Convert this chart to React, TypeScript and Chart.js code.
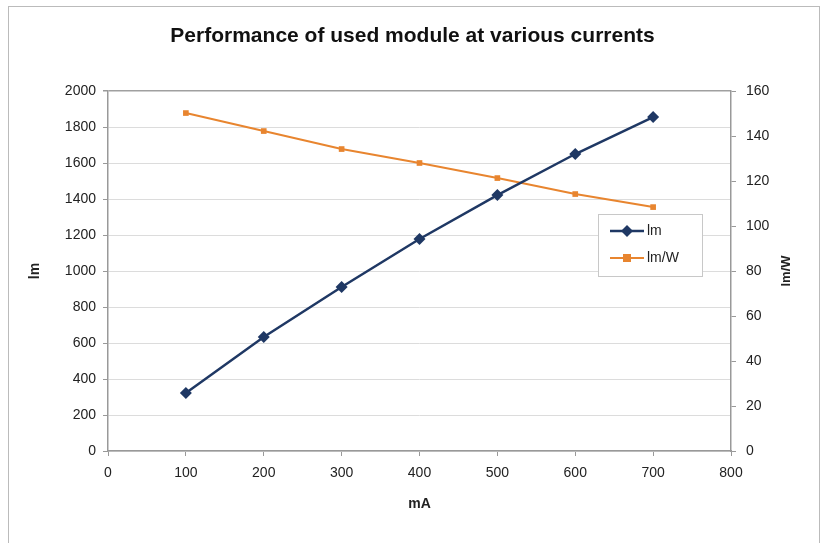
import React, { useEffect, useRef } from "react";
import { Chart, registerables } from "chart.js";

Chart.register(...registerables);

const currents = [100, 200, 300, 400, 500, 600, 700];
const lumens = [322, 633, 911, 1178, 1422, 1650, 1855];
const efficacy = [150.2, 142.2, 134.2, 128, 121.3, 114.2, 108.4];
const titleText = "Performance of used module at various currents";
const seriesNames = ["lm", "lm/W"];
const xTitle = "mA";
const yTitle = "lm";
const y1Title = "lm/W";

const NAVY = "#1f3864";
const ORANGE = "#e8852f";
const FONT = "'Liberation Sans', Arial, sans-serif";
const plain = (v: any) => String(v);

const extrasPlugin = {
  id: "extras",
  afterDraw(chart: any) {
    const { ctx, chartArea } = chart;
    ctx.save();
    ctx.font = `bold 13px ${FONT}`;
    ctx.fillStyle = "#222";
    ctx.textAlign = "center";
    ctx.textBaseline = "middle";
    ctx.translate(786, (chartArea.top + chartArea.bottom) / 2);
    ctx.rotate(-Math.PI / 2);
    ctx.fillText(y1Title, 0, 0);
    ctx.restore();

    ctx.save();
    const bx = 598, by = 214, bw = 104, bh = 62;
    ctx.fillStyle = "#fff";
    ctx.fillRect(bx, by, bw, bh);
    ctx.strokeStyle = "#c8c8c8";
    ctx.lineWidth = 1;
    ctx.strokeRect(bx + 0.5, by + 0.5, bw, bh);
    chart.data.datasets.forEach((ds: any, i: number) => {
      const y = by + 17 + i * 27;
      ctx.strokeStyle = ds.borderColor;
      ctx.lineWidth = ds.borderWidth;
      ctx.beginPath();
      ctx.moveTo(610, y);
      ctx.lineTo(644, y);
      ctx.stroke();
      ctx.fillStyle = ds.backgroundColor;
      const r = ds.pointRadius;
      if (ds.pointStyle === "rectRot") {
        ctx.beginPath();
        ctx.moveTo(627, y - r);
        ctx.lineTo(627 + r, y);
        ctx.lineTo(627, y + r);
        ctx.lineTo(627 - r, y);
        ctx.closePath();
        ctx.fill();
      } else {
        ctx.fillRect(627 - r, y - r, 2 * r, 2 * r);
      }
      ctx.fillStyle = "#222";
      ctx.font = `14px ${FONT}`;
      ctx.textAlign = "left";
      ctx.textBaseline = "middle";
      ctx.fillText(ds.label, 647, y);
    });
    ctx.restore();
  },
};

export default function App() {
  const ref = useRef<HTMLCanvasElement>(null);
  useEffect(() => {
    if (!ref.current) return;
    const chart = new Chart(ref.current, {
      type: "line",
      data: {
        datasets: [
          {
            label: seriesNames[0],
            data: currents.map((c, i) => ({ x: c, y: lumens[i] })),
            yAxisID: "y",
            borderColor: NAVY,
            backgroundColor: NAVY,
            borderWidth: 2.5,
            pointStyle: "rectRot",
            pointRadius: 6,
            pointBorderWidth: 0,
          },
          {
            label: seriesNames[1],
            data: currents.map((c, i) => ({ x: c, y: efficacy[i] })),
            yAxisID: "y1",
            borderColor: ORANGE,
            backgroundColor: ORANGE,
            borderWidth: 2,
            pointStyle: "rect",
            pointRadius: 4,
            pointBorderWidth: 0,
          },
        ],
      },
      options: {
        responsive: false,
        animation: false,
        events: [],
        layout: { padding: 0 },
        plugins: {
          legend: { display: false },
          tooltip: { enabled: false },
          title: {
            display: true,
            text: titleText,
            color: "#111",
            font: { family: FONT, size: 21, weight: "bold", lineHeight: 1.2 },
            padding: { top: 24, bottom: 41.8 },
          },
        },
        scales: {
          x: {
            type: "linear",
            position: "bottom",
            min: 0,
            max: 800,
            ticks: { stepSize: 100, color: "#222", font: { family: FONT, size: 14 }, padding: 9, maxRotation: 0, callback: plain },
            grid: { drawOnChartArea: false, drawTicks: true, tickLength: 5, color: "#999" },
            border: { color: "#999", width: 1.5 },
            title: {
              display: true,
              text: xTitle,
              color: "#222",
              font: { family: FONT, size: 14, weight: "bold", lineHeight: 1.2 },
              padding: { top: 0, bottom: 30 },
            },
            afterFit: (s: any) => { s.height = 92; },
          },
          y: {
            position: "left",
            min: 0,
            max: 2000,
            ticks: { stepSize: 200, color: "#222", font: { family: FONT, size: 14 }, padding: 7, callback: plain },
            grid: {
              color: (c: any) => (c.tick && c.tick.value === 2000 ? "#a0a0a0" : "#dcdcdc"),
              lineWidth: (c: any) => (c.tick && c.tick.value === 2000 ? 1.5 : 1),
              tickLength: 5,
              tickColor: "#999",
            },
            border: { color: "#999", width: 1.5 },
            title: {
              display: true,
              text: yTitle,
              color: "#222",
              font: { family: FONT, size: 14, weight: "bold", lineHeight: 1.2 },
              padding: { top: 27, bottom: 0 },
            },
            afterFit: (s: any) => { s.width = 108; },
          },
          y1: {
            position: "right",
            min: 0,
            max: 160,
            ticks: { stepSize: 20, color: "#222", font: { family: FONT, size: 14 }, padding: 10, callback: plain },
            grid: { drawOnChartArea: false, tickLength: 5, color: "#999" },
            border: { color: "#999", width: 1.5 },
            afterFit: (s: any) => { s.width = 94; },
          },
        },
      },
      plugins: [extrasPlugin],
    } as any);
    return () => chart.destroy();
  }, []);

  return (
    <div style={{ position: "absolute", left: 0, top: 0, width: 825, height: 543, background: "#fff" }}>
      <canvas ref={ref} width={825} height={543} style={{ position: "absolute", left: 0, top: 0 }} />
      <div
        style={{
          position: "absolute",
          left: 8,
          top: 6,
          width: 810,
          height: 540,
          borderTop: "1.5px solid #bbb",
          borderLeft: "1.5px solid #bbb",
          borderRight: "1.5px solid #bbb",
          pointerEvents: "none",
        }}
      />
    </div>
  );
}
